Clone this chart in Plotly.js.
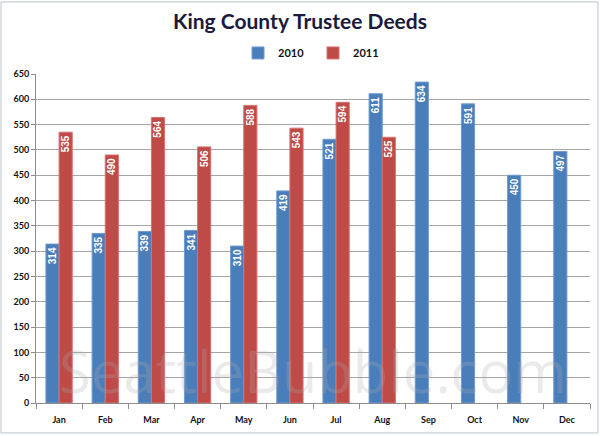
<!DOCTYPE html>
<html>
<head>
<meta charset="utf-8">
<script src="https://cdn.plot.ly/plotly-3.0.1.min.js"></script>
<style>
  html, body { margin: 0; padding: 0; background: #fff; }
  #chart { width: 600px; height: 436px; }
</style>
</head>
<body>
<div id="chart"></div>
<script>
// Monatliche Werte
const months = ['Jan', 'Feb', 'Mar', 'Apr', 'May', 'Jun', 'Jul', 'Aug', 'Sep', 'Oct', 'Nov', 'Dec'];
const deeds2010 = [314, 335, 339, 341, 310, 419, 521, 611, 634, 591, 450, 497];
const deeds2011 = [535, 490, 564, 506, 588, 543, 594, 525];
const months2011 = months.slice(0, deeds2011.length);

const labelFont = { family: 'Liberation Sans, Arial, sans-serif', size: 10, color: '#ffffff', weight: 'bold' };

const traces = [
    {
        type: 'bar', name: '2010', x: months, y: deeds2010,
        marker: { color: '#4a7ebb', line: { color: '#6f9bd0', width: 1 } },
        text: deeds2010.map(String), textposition: 'inside', textangle: -90,
        insidetextanchor: 'end', textfont: labelFont, constraintext: 'none'
    },
    {
        type: 'bar', name: '2011', x: months2011, y: deeds2011,
        marker: { color: '#be4b48', line: { color: '#d9716e', width: 1 } },
        text: deeds2011.map(String), textposition: 'inside', textangle: -90,
        insidetextanchor: 'end', textfont: labelFont, constraintext: 'none'
    }
];

const layout = {
    width: 600, height: 436,
    margin: { l: 36, r: 10, t: 74, b: 33 },
    paper_bgcolor: '#ffffff', plot_bgcolor: '#ffffff',
    font: { family: 'Lato, Open Sans, sans-serif', size: 10, color: '#111' },
    title: {
        text: '<b>King County Trustee Deeds</b>',
        x: 0.5, xanchor: 'center', y: 0.95, yanchor: 'middle',
        font: { family: 'Lato, Open Sans, sans-serif', size: 21, color: '#1c1a3c' }
    },
    showlegend: true,
    legend: {
        orientation: 'h', x: 0.5, xanchor: 'center', y: 1.064, yanchor: 'middle',
        font: { family: 'Lato, sans-serif', size: 11, color: '#111', weight: 'bold' },
        itemwidth: 30, entrywidth: 30, entrywidthmode: 'pixels', traceorder: 'normal'
    },
    barmode: 'group', bargap: 0.43, bargroupgap: 0,
    xaxis: {
        categoryorder: 'array', categoryarray: months,
        showline: true, linecolor: '#8c8c8c', linewidth: 1,
        ticks: 'outside', tickson: 'boundaries', ticklen: 5, tickcolor: '#8c8c8c',
        ticklabelstandoff: 8,
        tickfont: { family: 'Lato, sans-serif', size: 9, color: '#111', weight: 'bold' },
        showgrid: false
    },
    yaxis: {
        range: [0, 650], dtick: 50, tick0: 0,
        showline: true, linecolor: '#8c8c8c', linewidth: 1,
        ticks: 'outside', ticklen: 4, tickcolor: '#8c8c8c',
        gridcolor: '#a6a6a6', gridwidth: 1,
        tickfont: { family: 'Lato, sans-serif', size: 9, color: '#111', weight: 'bold' },
        zeroline: false
    },
    shapes: [{
        type: 'rect', xref: 'paper', yref: 'paper', x0: -0.0632, x1: 1.0144, y0: -0.091, y1: 1.219,
        line: { color: '#b8c4cc', width: 1 }, fillcolor: 'rgba(0,0,0,0)'
    }],
    annotations: [{
        text: 'SeattleBubble.com', xref: 'paper', yref: 'paper', x: 0.5, y: 0.1,
        xanchor: 'center', yanchor: 'middle', showarrow: false,
        font: { family: 'Open Sans, sans-serif', size: 58, color: 'rgba(170,170,170,0.25)' }
    }]
};

Plotly.newPlot('chart', traces, layout, { displayModeBar: false, staticPlot: true });
</script>
</body>
</html>
